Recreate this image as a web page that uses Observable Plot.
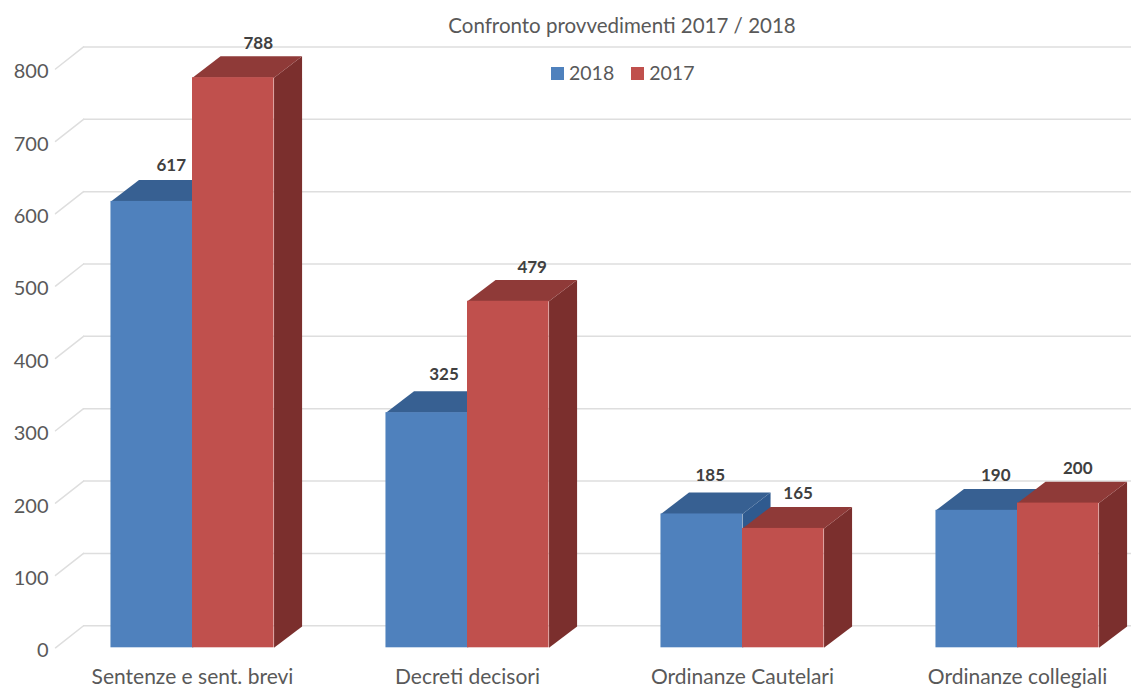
<!DOCTYPE html>
<html lang="it">
<head>
<meta charset="utf-8">
<title>Confronto provvedimenti 2017 / 2018</title>
<script src="https://cdn.jsdelivr.net/npm/d3@7"></script>
<script src="https://cdn.jsdelivr.net/npm/@observablehq/plot@0.6"></script>
<style>
  html, body { margin: 0; padding: 0; background: #fff; }
  #chart { position: relative; width: 1131px; height: 688px; overflow: hidden; font-family: Lato, sans-serif; color: #595959; }
  #title { position: absolute; left: 322px; width: 600px; top: 12px; margin: 0; text-align: center; font-size: 20.5px; font-weight: 400; line-height: 26px; z-index: 1; }
  #legend { position: absolute; left: 551px; top: 60px; display: flex; align-items: center; font-size: 19.5px; line-height: 26px; z-index: 1; }
  #legend i { display: inline-block; width: 13px; height: 13px; margin-right: 5px; }
  #legend span + i { margin-left: 17px; }
  svg { position: absolute; left: 0; top: 0; }
</style>
</head>
<body>
<div id="chart">
  <h2 id="title"></h2>
  <div id="legend"></div>
</div>
<script>
const titleText = "Confronto provvedimenti 2017 / 2018";
const categories = ["Sentenze e sent. brevi", "Decreti decisori", "Ordinanze Cautelari", "Ordinanze collegiali"];
const values2018 = [617, 325, 185, 190];
const values2017 = [788, 479, 165, 200];
const yTicks = [0, 100, 200, 300, 400, 500, 600, 700, 800];

// Style: pseudo-3D depth, expressed in scale units
const barWidth = 0.2965, depthX = 0.102, depthY = 29.5, wallDepthY = 30.5;
const colors = {
  2018: {front: "#4F81BD", top: "#376092", side: "#2F5A8F"},
  2017: {front: "#C0504D", top: "#8F3A38", side: "#7B2F2D"}
};
const labelNudge = {2018: [0.02, 0.012, -0.02, 0.018], 2017: [0.04, 0.036, 0.003, 0.02]};
const labelLift = {2018: [0, 3, 4, -1], 2017: [0, -1, 0, 0]};

const series = (year, values, start) => values.map((value, i) => {
  const x1 = i + start, x2 = x1 + barWidth;
  return {year, i, value, x1, x2,
    labelX: x1 + barWidth / 2 + depthX / 2 + labelNudge[year][i],
    labelY: value + labelLift[year][i]};
});
const bars2018 = series(2018, values2018, -barWidth);
const bars2017 = series(2017, values2017, 0);

// Top and side faces of each bar as closed polygons
const faces = (bars) => bars.flatMap(({year, i, value, x1, x2}) => {
  const dx = depthX, dy = depthY, c = colors[year];
  const poly = (id, fill, pts) => pts.map(([x, y]) => ({id: `${year}-${i}-${id}`, fill, x, y}));
  return [
    ...poly("side", c.side, [[x2, 0], [x2 + dx, dy], [x2 + dx, value + dy], [x2, value]]),
    ...poly("top", c.top, [[x1, value], [x1 + dx, value + dy], [x2 + dx, value + dy], [x2, value]])
  ];
});

const xLeft = -137 / 275, xRight = 939 / 275;
const wallX = xLeft + depthX;
const diagonals = yTicks.flatMap((v) => [{v, x: xLeft, y: v}, {v, x: wallX, y: v + wallDepthY}]);

const grid = "#DEDEDE";
const polygonMark = (bars) => Plot.line(faces(bars), {x: "x", y: "y", z: "id", fill: "fill", stroke: null, curve: "linear"});
const frontMark = (bars, year) => Plot.rect(bars, {x1: "x1", x2: "x2", y1: 0, y2: "value", fill: colors[year].front});
const labelMark = (bars, dy) => Plot.text(bars, {
  x: "labelX", y: "labelY", text: (d) => String(d.value), dy,
  fontSize: 17, fontWeight: 700, fill: "#404040"
});

const plot = Plot.plot({
  width: 1131, height: 688,
  marginLeft: 55, marginRight: 0, marginTop: 0, marginBottom: 41,
  style: {fontFamily: "Lato, sans-serif", background: "transparent"},
  x: {type: "linear", domain: [xLeft, xRight], range: [55, 1131]},
  y: {type: "linear", domain: [0, 894.7], range: [647.3, 0]},
  marks: [
    Plot.ruleY(yTicks, {y: (v) => v + wallDepthY, x1: wallX, x2: xRight, stroke: grid, strokeWidth: 1.5}),
    Plot.line(diagonals, {x: "x", y: "y", z: "v", stroke: grid, strokeWidth: 1.5}),
    polygonMark(bars2018), frontMark(bars2018, 2018),
    polygonMark(bars2017), frontMark(bars2017, 2017),
    labelMark(bars2018, -36), labelMark(bars2017, -34.5),
    Plot.axisY(yTicks, {anchor: "left", label: null, tickSize: 0, tickPadding: 7, fontSize: 20, dy: 3, color: "#595959", tickFormat: (d) => String(d)}),
    Plot.axisX(categories.map((_, i) => i), {anchor: "bottom", label: null, tickSize: 0, tickPadding: 22, fontSize: 21, color: "#595959", tickFormat: (i) => categories[i]})
  ]
});

const chart = document.getElementById("chart");
chart.appendChild(plot);
document.getElementById("title").textContent = titleText;
document.getElementById("legend").innerHTML = [2018, 2017]
  .map((y) => `<i style="background:${colors[y].front}"></i><span>${y}</span>`).join("");
</script>
</body>
</html>
